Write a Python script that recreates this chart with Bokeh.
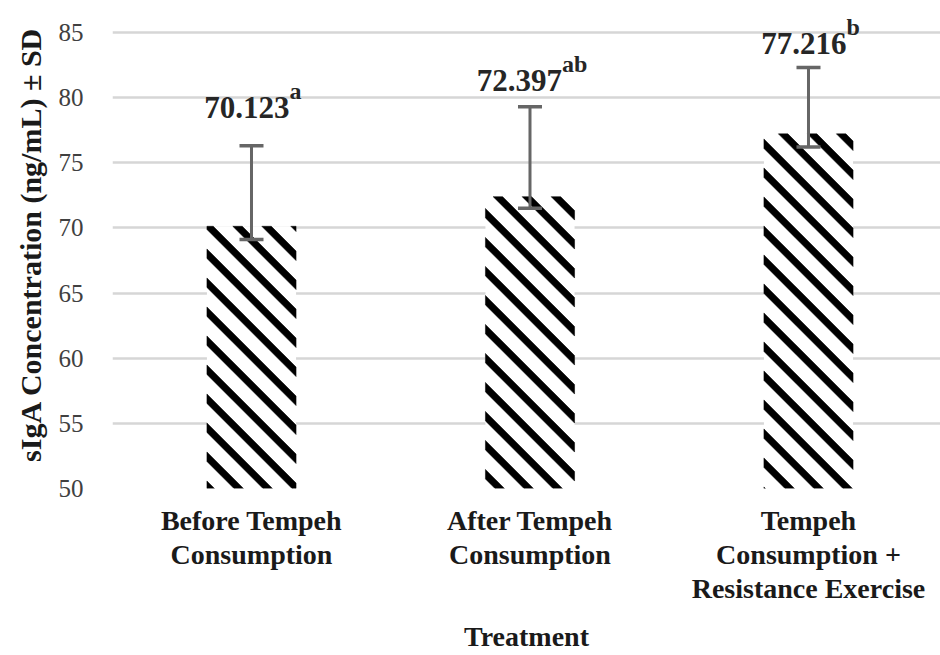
import math
from bokeh.plotting import figure
from bokeh.models import (Range1d, FixedTicker, ColumnDataSource, Whisker, TeeHead,
                          LabelSet, Title)
from bokeh.core.properties import value
from bokeh.embed import file_html
from bokeh.resources import INLINE

# ---- data ----
categories = ["Before Tempeh\nConsumption", "After Tempeh\nConsumption",
              "Tempeh\nConsumption +\nResistance Exercise"]
means = [70.123, 72.397, 77.216]
err_low = [69.1, 71.5, 76.2]
err_high = [76.3, 79.3, 82.3]
sig_letters = ["a", "ab", "b"]
y_ticks = [50, 55, 60, 65, 70, 75, 80, 85]
y_title = "sIgA Concentration (ng/mL) ± SD"
x_title = "Treatment"

# ---- styles ----
label_raise = [28, 16, 14]      # px above error bar top
junction_shift = [38, 32, 38]   # px from bar centre to end of number
SERIF = "Liberation Serif"
BAR_W = 0.32
Y0 = 50
X_START, X_END = 0.5009, 3.474
Y_END = 87.45
W, H = 940, 655
LEFT, BOTTOM = 112, 167
STRIPE_PERIOD, STRIPE_THICK = 29.0, 9.5   # px, measured horizontally

xs = list(range(1, len(categories) + 1))
src = ColumnDataSource(dict(
    x=xs, top=means, low=err_low, high=err_high,
    num=[f"{m:.3f}" for m in means], sup=sig_letters,
    yo_main=label_raise,
    yo_sup=[r + 19 for r in label_raise],
    xo=junction_shift,
))

p = figure(width=W, height=H, output_backend="svg", toolbar_location=None,
           x_range=Range1d(X_START, X_END), y_range=Range1d(Y0, Y_END),
           min_border_left=LEFT, min_border_right=0, min_border_top=0,
           min_border_bottom=BOTTOM)
p.outline_line_color = None
p.background_fill_color = "white"
p.border_fill_color = "white"

p.xgrid.grid_line_color = None
p.ygrid.grid_line_color = "#d6d6d6"
p.ygrid.grid_line_width = 2.5

p.vbar(x="x", top="top", bottom=Y0, width=BAR_W, source=src,
       fill_color="white", line_color=None)

# ---- 45-degree "\" hatch stripes, clipped to each bar ----
kx = (W - LEFT) / (X_END - X_START)       # px per x unit
ky = (H - BOTTOM) / (Y_END - Y0)          # px per y unit


def clip(poly, a, b, d):
    """keep part of polygon with a*x + b*y <= d"""
    out = []
    n = len(poly)
    for i in range(n):
        P, Q = poly[i], poly[(i + 1) % n]
        fp = a * P[0] + b * P[1] - d
        fq = a * Q[0] + b * Q[1] - d
        if fp <= 0:
            out.append(P)
        if (fp < 0 < fq) or (fq < 0 < fp):
            t = fp / (fp - fq)
            out.append((P[0] + t * (Q[0] - P[0]), P[1] + t * (Q[1] - P[1])))
    return out


stripe_xs, stripe_ys = [], []
for xc, top in zip(xs, means):
    x0, x1 = (xc - BAR_W / 2) * kx, (xc + BAR_W / 2) * kx
    y0, y1 = 0.0, (top - Y0) * ky
    rect = [(x0, y0), (x1, y0), (x1, y1), (x0, y1)]
    c = math.floor((x0 + y0) / STRIPE_PERIOD) * STRIPE_PERIOD
    while c < x1 + y1:
        poly = clip(rect, -1, -1, -c)                 # x + y >= c
        poly = clip(poly, 1, 1, c + STRIPE_THICK)     # x + y <= c + T
        if len(poly) >= 3:
            stripe_xs.append([q[0] / kx for q in poly])
            stripe_ys.append([Y0 + q[1] / ky for q in poly])
        c += STRIPE_PERIOD

p.patches(stripe_xs, stripe_ys, fill_color="black", line_color="black", line_width=0.5)

w = Whisker(source=src, base="x", lower="low", upper="high", level="annotation",
            line_color="#666666", line_width=3,
            lower_head=TeeHead(size=24, line_color="#666666", line_width=3.5),
            upper_head=TeeHead(size=24, line_color="#666666", line_width=3.5))
p.add_layout(w)

p.add_layout(LabelSet(x="x", y="high", text="num", source=src,
                      x_offset="xo", y_offset="yo_main", level="overlay",
                      text_align="right", text_baseline="alphabetic",
                      text_font=value(SERIF), text_font_style="bold",
                      text_font_size="31px", text_color="#262626"))
p.add_layout(LabelSet(x="x", y="high", text="sup", source=src,
                      x_offset="xo", y_offset="yo_sup", level="overlay",
                      text_align="left", text_baseline="alphabetic",
                      text_font=value(SERIF), text_font_style="bold",
                      text_font_size="24px", text_color="#262626"))

# x axis
xa = p.xaxis[0]
xa.ticker = FixedTicker(ticks=xs)
xa.major_label_overrides = {x: c for x, c in zip(xs, categories)}
xa.axis_line_color = None
xa.major_tick_line_color = None
xa.minor_tick_line_color = None
xa.major_tick_out = 0
xa.major_label_standoff = 16
xa.major_label_text_font = SERIF
xa.major_label_text_font_style = "bold"
xa.major_label_text_font_size = "28px"
xa.major_label_text_line_height = 1.1
xa.major_label_text_color = "#1a1a1a"
xa.axis_label = x_title
xa.axis_label_text_font = SERIF
xa.axis_label_text_font_style = "bold"
xa.axis_label_text_font_size = "28px"
xa.axis_label_text_color = "#1a1a1a"
xa.axis_label_standoff = 14

# y axis
ya = p.yaxis[0]
ya.ticker = FixedTicker(ticks=y_ticks)
ya.axis_line_color = None
ya.major_tick_line_color = None
ya.minor_tick_line_color = None
ya.major_tick_out = 0
ya.major_label_standoff = 29
ya.major_label_text_font = SERIF
ya.major_label_text_font_size = "25px"
ya.major_label_text_color = "#404040"

p.add_layout(Title(text=y_title, align="center", offset=8, standoff=18,
                   text_font=SERIF, text_font_style="bold",
                   text_font_size="30px", text_color="#1a1a1a"), "left")

open("out.html", "w").write(file_html(p, INLINE))
